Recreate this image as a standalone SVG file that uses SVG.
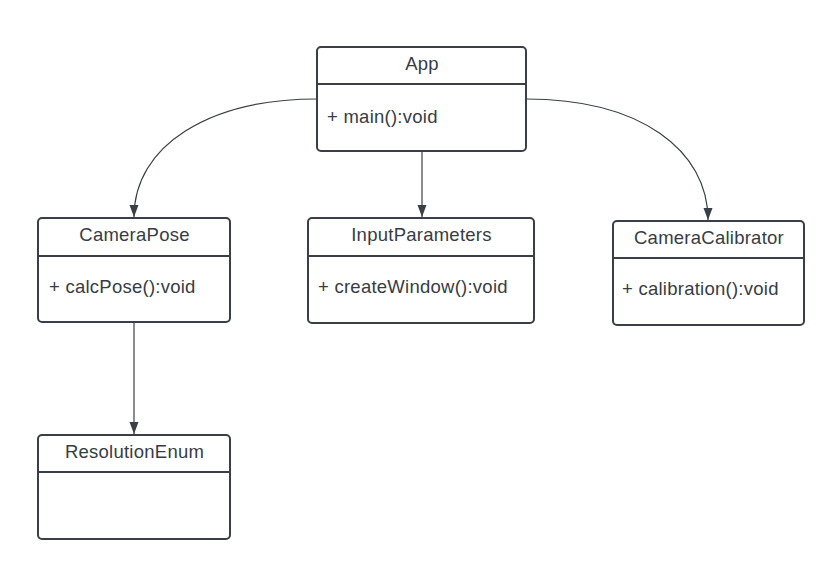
<svg xmlns="http://www.w3.org/2000/svg" width="828" height="562" viewBox="0 0 828 562">
<defs>
<style>
.box{fill:#ffffff;stroke:#3a3f47;stroke-width:2}
.div{stroke:#3a3f47;stroke-width:2}
.t{font-family:"Liberation Sans",Arial,sans-serif;font-size:18.5px;letter-spacing:0.25px;fill:#373c44}
.c{text-anchor:middle}
.edge{fill:none;stroke:#3a3f47;stroke-width:1.2}
</style>
<marker id="arr" markerUnits="userSpaceOnUse" markerWidth="14" markerHeight="12" refX="12" refY="5" orient="auto">
<path d="M0,0.5 L12,5 L0,9.5 Z" fill="#3a3f47"/>
</marker>
</defs>
<rect width="828" height="562" fill="#ffffff"/>
<g id="connectors">
<path class="edge" d="M317,99 C210,99 134,145 134,217" marker-end="url(#arr)"/>
<path class="edge" d="M526,99 C640,99 708,150 708,220" marker-end="url(#arr)"/>
<path class="edge" d="M422,151 L422,217" marker-end="url(#arr)"/>
<path class="edge" d="M134,322 L134,434" marker-end="url(#arr)"/>
</g>
<g id="App">
<rect class="box" x="317" y="47" width="209" height="104" rx="4"/>
<line class="div" x1="317" y1="84" x2="526" y2="84"/>
<text class="t c" x="422" y="69.5">App</text>
<text class="t" x="327" y="122.5">+ main():void</text>
</g>
<g id="CameraPose">
<rect class="box" x="38" y="218" width="192" height="104" rx="4"/>
<line class="div" x1="38" y1="256" x2="230" y2="256"/>
<text class="t c" x="134.5" y="241">CameraPose</text>
<text class="t" x="49" y="293">+ calcPose():void</text>
</g>
<g id="InputParameters">
<rect class="box" x="308" y="218" width="226" height="105" rx="4"/>
<line class="div" x1="308" y1="256" x2="534" y2="256"/>
<text class="t c" x="421.5" y="241">InputParameters</text>
<text class="t" x="318" y="293">+ createWindow():void</text>
</g>
<g id="CameraCalibrator">
<rect class="box" x="613" y="221" width="191" height="104" rx="4"/>
<line class="div" x1="613" y1="258" x2="804" y2="258"/>
<text class="t c" x="709" y="243.5">CameraCalibrator</text>
<text class="t" x="622" y="295">+ calibration():void</text>
</g>
<g id="ResolutionEnum">
<rect class="box" x="38" y="435" width="192" height="104" rx="4"/>
<line class="div" x1="38" y1="472" x2="230" y2="472"/>
<text class="t c" x="134.5" y="457.5">ResolutionEnum</text>
</g>
</svg>
